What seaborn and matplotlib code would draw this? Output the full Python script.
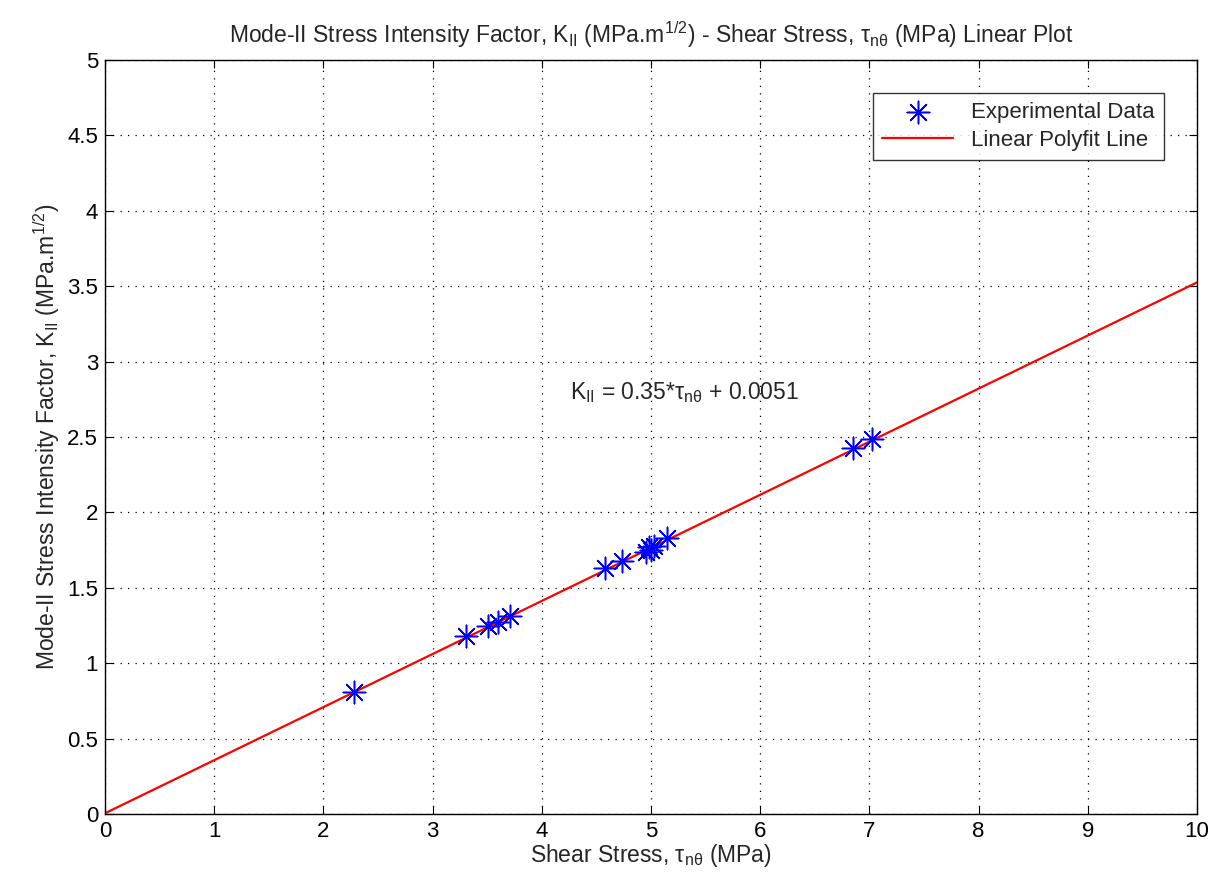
import numpy as np
import seaborn as sns
import matplotlib.pyplot as plt

shear_stress = [2.28, 3.31, 3.51, 3.60, 3.71, 4.58, 4.73, 4.95, 4.98, 5.00, 5.03, 5.15, 6.85, 7.02]
k_ii = [0.81, 1.18, 1.25, 1.27, 1.31, 1.63, 1.68, 1.74, 1.77, 1.75, 1.78, 1.83, 2.43, 2.49]

# Polyfit line endpoints
fit_x = [0, 10]
fit_y = [0.0051, 3.525]

sns.set_style("white")
plt.rcParams['font.family'] = ['Liberation Sans', 'DejaVu Sans']
plt.rcParams['mathtext.fontset'] = 'custom'
plt.rcParams['mathtext.rm'] = 'Liberation Sans'
plt.rcParams['mathtext.it'] = 'Liberation Sans:italic'
plt.rcParams['mathtext.default'] = 'rm'

fig = plt.figure(figsize=(12.13, 8.72), dpi=100)
ax = fig.add_axes([0.0866, 0.0665, 0.9002, 0.8647])

sns.scatterplot(x=shear_stress, y=k_ii, marker=(8, 2, 0), s=260, color='blue',
                linewidth=1.1, label='Experimental Data', ax=ax, zorder=3)
sns.lineplot(x=fit_x, y=fit_y, color='red', linewidth=1.6, label='Linear Polyfit Line', ax=ax)

ax.set_xlim(0, 10)
ax.set_ylim(0, 5)
ax.set_xticks(np.arange(0, 11, 1))
ax.set_yticks(np.arange(0, 5.01, 0.5))
ax.set_yticklabels(['0', '0.5', '1', '1.5', '2', '2.5', '3', '3.5', '4', '4.5', '5'])
ax.grid(True, color='black', linestyle=(0, (1, 5)), linewidth=0.9)
ax.tick_params(direction='in', length=6, labelsize=16, colors='black', pad=5,
               top=True, right=True, bottom=True, left=True)
for s in ax.spines.values():
    s.set_color('black')
    s.set_linewidth(1.0)

ax.set_title(r'Mode-II Stress Intensity Factor, K$_{\rm II}$ (MPa.m$^{1/2}$) - Shear Stress, '
             r'$\tau_{n\theta}$ (MPa) Linear Plot', fontsize=16.5, pad=12)
ax.set_xlabel(r'Shear Stress, $\tau_{n\theta}$ (MPa)', fontsize=16.5, labelpad=0)
ax.set_ylabel(r'Mode-II Stress Intensity Factor, K$_{\rm II}$ (MPa.m$^{1/2}$)', fontsize=16.5, labelpad=4)

ax.text(4.26, 2.75, r'K$_{\rm II}$ = 0.35*$\tau_{n\theta}$ + 0.0051', fontsize=16.5)

leg = ax.legend(loc='upper right', fontsize=16, frameon=True, fancybox=False,
                edgecolor='black', borderaxespad=1.5, handlelength=3.2,
                labelspacing=0.3, borderpad=0.4)
leg.get_frame().set_linewidth(1.0)

fig.savefig('out.png', dpi=100)
